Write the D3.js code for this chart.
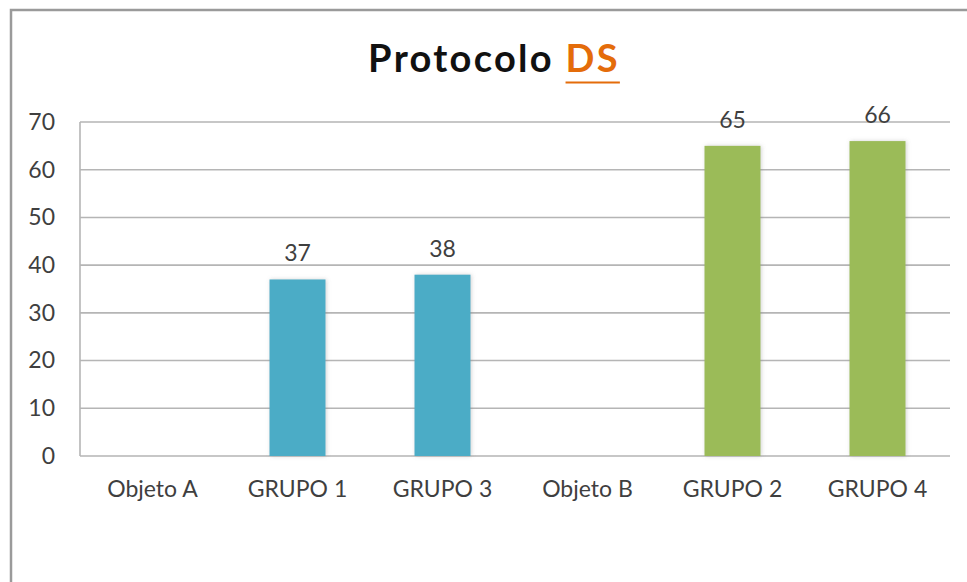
<!DOCTYPE html>
<html>
<head>
<meta charset="utf-8">
<script src="https://cdn.jsdelivr.net/npm/d3@7"></script>
<style>
  html, body { margin: 0; padding: 0; background: #fff; }
  svg { display: block; }
  text { font-family: Lato, "Open Sans", sans-serif; }
</style>
</head>
<body>
<svg id="chart" width="967" height="582"></svg>
<script>
// Categories along the x axis
const categories = ["Objeto A", "GRUPO 1", "GRUPO 3", "Objeto B", "GRUPO 2", "GRUPO 4"];
// Bar values (null = no bar for that category)
const values = [null, 37, 38, null, 65, 66];
// Bar colour group per category
const groups = ["A", "A", "A", "B", "B", "B"];
const yTicks = [0, 10, 20, 30, 40, 50, 60, 70];
const titleMain = "Protocolo ";
const titleAccent = "DS";

const svg = d3.select("#chart");
const W = 967, H = 582;
const plot = { left: 80, right: 950, top: 122, bottom: 456 };

const colors = { A: "#4BACC6", B: "#9BBB59" };

// soft shadow around the bars
const defs = svg.append("defs");
const f = defs.append("filter").attr("id", "barShadow")
  .attr("x", "-30%").attr("y", "-10%").attr("width", "160%").attr("height", "120%");
f.append("feDropShadow").attr("dx", 1).attr("dy", 0).attr("stdDeviation", 2.2)
  .attr("flood-color", "#808080").attr("flood-opacity", 0.35);

// outer chart frame (open on the right and bottom)
svg.append("path")
  .attr("d", `M11,${H} L11,10 L${W},10`)
  .attr("fill", "none").attr("stroke", "#9a9a9a").attr("stroke-width", 2.5);

const x = d3.scaleBand()
  .domain(categories)
  .range([plot.left, plot.right])
  .paddingInner(0.614)
  .paddingOuter(0.307);

const y = d3.scaleLinear().domain([0, 70]).range([plot.bottom, plot.top]);

// gridlines
svg.append("g").selectAll("line").data(yTicks).join("line")
  .attr("x1", plot.left).attr("x2", plot.right)
  .attr("y1", d => y(d)).attr("y2", d => y(d))
  .attr("stroke", "#b5b5b5").attr("stroke-width", 1.6);

// y axis line
svg.append("line")
  .attr("x1", plot.left).attr("x2", plot.left)
  .attr("y1", y(70)).attr("y2", y(0))
  .attr("stroke", "#b5b5b5").attr("stroke-width", 1.6);

// y tick labels
const yAxis = d3.axisLeft(y).tickValues(yTicks).tickSize(0).tickPadding(25);
const gy = svg.append("g").attr("transform", `translate(${plot.left},0)`).call(yAxis);
gy.select(".domain").remove();
gy.selectAll("text")
  .attr("font-family", "Lato, sans-serif")
  .attr("font-size", 23).attr("fill", "#3f3f3f");

// x tick labels
const xAxis = d3.axisBottom(x).tickSize(0).tickPadding(25);
const gx = svg.append("g").attr("transform", `translate(0,${plot.bottom})`).call(xAxis);
gx.select(".domain").remove();
gx.selectAll("text")
  .attr("font-family", "Lato, sans-serif")
  .attr("font-size", 23).attr("fill", "#3f3f3f");

const data = categories.map((c, i) => ({ c, v: values[i], g: groups[i] }))
  .filter(d => d.v !== null);

// bars
svg.append("g").selectAll("rect").data(data).join("rect")
  .attr("x", d => x(d.c))
  .attr("width", x.bandwidth())
  .attr("y", d => y(d.v))
  .attr("height", d => y(0) - y(d.v))
  .attr("fill", d => colors[d.g])
  .attr("filter", "url(#barShadow)");

// value labels
svg.append("g").selectAll("text").data(data).join("text")
  .attr("x", d => x(d.c) + x.bandwidth() / 2)
  .attr("y", d => y(d.v) - 18)
  .attr("text-anchor", "middle")
  .attr("font-size", 23).attr("fill", "#3f3f3f")
  .text(d => d.v);

// title, with the accent word underlined
const title = svg.append("text")
  .attr("x", 494).attr("y", 72)
  .attr("text-anchor", "middle")
  .attr("font-size", 38).attr("font-weight", 700)
  .attr("letter-spacing", 2.3);
title.append("tspan").attr("fill", "#111").text(titleMain);
title.append("tspan").attr("fill", "#E46C0A").text(titleAccent);

const tNode = title.node();
const accStart = titleMain.length;
const s0 = tNode.getStartPositionOfChar(accStart).x;
const e1 = tNode.getEndPositionOfChar(accStart + titleAccent.length - 1).x;
svg.append("line")
  .attr("x1", s0).attr("x2", e1)
  .attr("y1", 82.5).attr("y2", 82.5)
  .attr("stroke", "#E46C0A").attr("stroke-width", 2.2);
</script>
</body>
</html>
